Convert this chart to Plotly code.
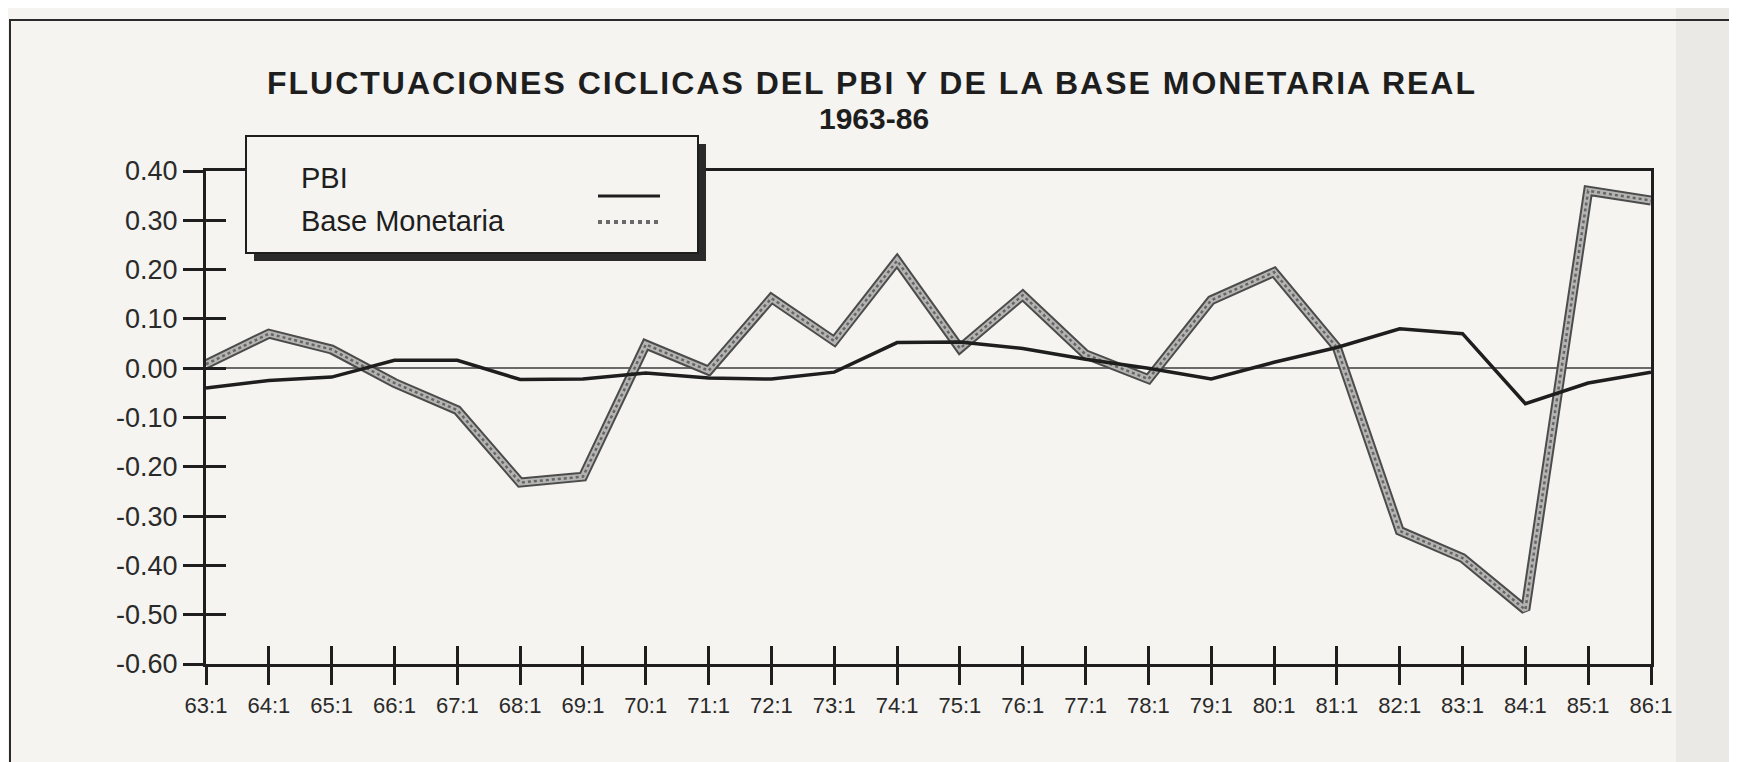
import plotly.graph_objects as go

# ---------------- data ----------------
periodos = ["63:1", "64:1", "65:1", "66:1", "67:1", "68:1", "69:1", "70:1",
            "71:1", "72:1", "73:1", "74:1", "75:1", "76:1", "77:1", "78:1",
            "79:1", "80:1", "81:1", "82:1", "83:1", "84:1", "85:1", "86:1"]

pbi = [-0.040, -0.025, -0.018, 0.016, 0.016, -0.023, -0.022, -0.010,
       -0.020, -0.022, -0.008, 0.052, 0.053, 0.040, 0.018, 0.000,
       -0.022, 0.012, 0.042, 0.080, 0.070, -0.072, -0.030, -0.008]

base_monetaria = [0.008, 0.070, 0.038, -0.030, -0.085, -0.232, -0.220, 0.048,
                  -0.005, 0.142, 0.055, 0.218, 0.040, 0.148, 0.028, -0.022,
                  0.138, 0.195, 0.042, -0.330, -0.385, -0.490, 0.360, 0.340]

y_ticks = [0.40, 0.30, 0.20, 0.10, 0.00, -0.10, -0.20, -0.30, -0.40, -0.50, -0.60]
y_tick_text = ["0.40", "0.30", "0.20", "0.10", "0.00", "-0.10", "-0.20",
               "-0.30", "-0.40", "-0.50", "-0.60"]

titulo_1 = "FLUCTUACIONES CICLICAS DEL PBI Y DE LA BASE MONETARIA REAL"
titulo_2 = "1963-86"
leyenda = ["PBI", "Base Monetaria"]

# ---------------- layout geometry ----------------
W, H = 1737, 762
L, R, T, B = 198, 94, 163, 106
PW, PH = W - L - R, H - T - B
BG = "#f5f4f0"
INK = "#1e1e1e"
FONT = "Liberation Sans, Arial, Helvetica, sans-serif"


def px(x):
    return (x - L) / PW


def py(y):
    return (H - B - y) / PH


xs = list(range(len(periodos)))

fig = go.Figure()

# Base Monetaria: thick hatched gray band
fig.add_trace(go.Scatter(x=xs, y=base_monetaria, mode="lines",
                         line=dict(color="#4c4c4c", width=10),
                         hoverinfo="skip", showlegend=False))
fig.add_trace(go.Scatter(x=xs, y=base_monetaria, mode="lines",
                         line=dict(color="#b4b4b2", width=6),
                         hoverinfo="skip", showlegend=False))
fig.add_trace(go.Scatter(x=xs, y=base_monetaria, mode="lines",
                         line=dict(color="#666666", width=2.5, dash="dot"),
                         name=leyenda[1], showlegend=False))
# PBI: solid black line
fig.add_trace(go.Scatter(x=xs, y=pbi, mode="lines",
                         line=dict(color=INK, width=3.5),
                         name=leyenda[0], showlegend=False))
# invisible companion trace so the overlay axes (inner half of the cross ticks) are drawn
fig.add_trace(go.Scatter(x=xs, y=pbi, mode="lines", xaxis="x2", yaxis="y2",
                         line=dict(width=0), opacity=0, hoverinfo="skip",
                         showlegend=False))

axis_common = dict(showgrid=False, linecolor=INK, linewidth=3,
                   tickcolor=INK, tickwidth=3)

fig.update_layout(
    width=W, height=H,
    margin=dict(l=L, r=R, t=T, b=B, pad=0),
    paper_bgcolor=BG, plot_bgcolor=BG,
    showlegend=False,
    font=dict(family=FONT, color=INK),
    xaxis=dict(range=[0, len(periodos) - 1], tickmode="array", tickvals=xs,
               ticktext=periodos, ticks="outside", ticklen=18,
               showline=True, mirror=True, zeroline=False,
               tickfont=dict(size=22, color="#2a2a2a"), ticklabelstandoff=2,
               **axis_common),
    yaxis=dict(range=[-0.6, 0.4], tickmode="array", tickvals=y_ticks,
               ticktext=y_tick_text, ticks="outside", ticklen=20,
               showline=True, mirror=True, zeroline=True,
               zerolinecolor="#6a6a6a", zerolinewidth=1.5,
               tickfont=dict(size=27, color="#2a2a2a"), ticklabelstandoff=0,
               **axis_common),
    xaxis2=dict(range=[0, len(periodos) - 1], tickmode="array", tickvals=xs,
                overlaying="x", anchor="y2", side="bottom", ticks="inside",
                ticklen=18, showticklabels=False, showline=False,
                zeroline=False, showgrid=False, tickcolor=INK, tickwidth=3),
    yaxis2=dict(range=[-0.6, 0.4], tickmode="array", tickvals=y_ticks,
                overlaying="y", anchor="x2", side="left", ticks="inside",
                ticklen=20, showticklabels=False, showline=False,
                zeroline=False, showgrid=False, tickcolor=INK, tickwidth=3),
)

shapes = []
# darker right page edge and outer page frame
shapes.append(dict(type="rect", xref="paper", yref="paper",
                   x0=px(1668), x1=px(1800), y0=py(-20), y1=py(900),
                   fillcolor="#eae9e5", line=dict(width=0), layer="below"))
shapes.append(dict(type="rect", xref="paper", yref="paper",
                   x0=px(2), x1=px(1800), y0=py(12), y1=py(900),
                   line=dict(color="#2a2a2a", width=2), layer="below"))
# legend shadow and box
shapes.append(dict(type="rect", xref="paper", yref="paper",
                   x0=px(246), x1=px(698), y0=py(136), y1=py(253),
                   fillcolor="#2a2a2a", line=dict(width=0), layer="above"))
shapes.append(dict(type="rect", xref="paper", yref="paper",
                   x0=px(238), x1=px(690), y0=py(128), y1=py(245),
                   fillcolor=BG, line=dict(color=INK, width=2), layer="above"))
# legend line samples
shapes.append(dict(type="line", xref="paper", yref="paper",
                   x0=px(590), x1=px(652), y0=py(188), y1=py(188),
                   line=dict(color=INK, width=3), layer="above"))
shapes.append(dict(type="line", xref="paper", yref="paper",
                   x0=px(590), x1=px(652), y0=py(214), y1=py(214),
                   line=dict(color="#6a6a6a", width=4, dash="dot"), layer="above"))

annotations = [
    dict(text='<span style="letter-spacing:2px"><b>' + titulo_1 + "</b></span>",
         xref="paper", yref="paper",
         x=px(864), y=py(75), xanchor="center", yanchor="middle",
         showarrow=False, font=dict(size=32, family=FONT, color=INK)),
    dict(text="<b>" + titulo_2 + "</b>", xref="paper", yref="paper",
         x=px(866), y=py(111), xanchor="center", yanchor="middle",
         showarrow=False, font=dict(size=30, family=FONT, color=INK)),
    dict(text=leyenda[0], xref="paper", yref="paper",
         x=px(291), y=py(170), xanchor="left", yanchor="middle",
         showarrow=False, font=dict(size=29, family=FONT, color=INK)),
    dict(text=leyenda[1], xref="paper", yref="paper",
         x=px(291), y=py(213), xanchor="left", yanchor="middle",
         showarrow=False, font=dict(size=29, family=FONT, color=INK)),
]

fig.update_layout(shapes=shapes, annotations=annotations)

fig.write_html("out.html")
